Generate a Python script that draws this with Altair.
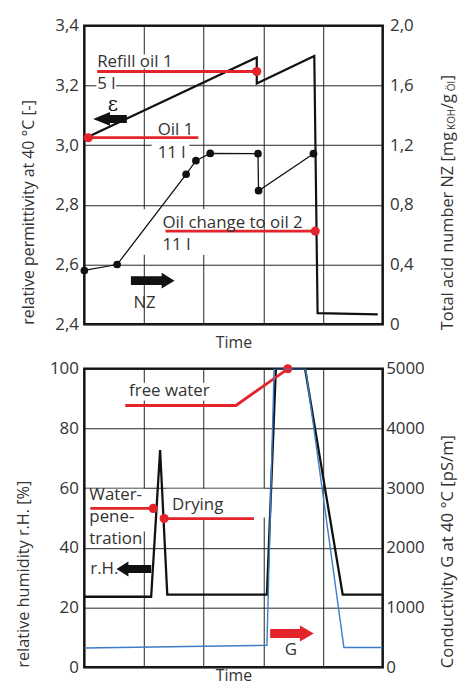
import altair as alt
import pandas as pd

FONT = "Open Sans"
RED = "#e3242b"
BLUE = "#3d7cc9"
INK = "#111111"
TXT = "#333333"
GRID = "#222222"
FS = 17      # annotation / tick label size
TFS = 16     # axis title size

# ---------------- top panel data ----------------
eps_t = [0.066, 2.89, 2.89, 3.854, 3.909, 4.917]
eps_v = [3.028, 3.294, 3.207, 3.299, 2.437, 2.433]

nz_t = [0.0, 0.55, 1.706, 1.87, 2.11, 2.91, 2.92, 3.84]
nz_v = [0.36, 0.40, 1.005, 1.096, 1.145, 1.143, 0.895, 1.143]

top_red_group = ["refill", "refill", "oil1", "oil1", "change", "change"]
top_red_t = [0.216, 2.89, 0.066, 1.91, 1.36, 3.87]
top_red_v = [3.247, 3.247, 3.025, 3.025, 2.712, 2.712]
top_dot_t = [2.89, 0.066, 3.87]
top_dot_v = [3.247, 3.025, 2.712]

top_text = ["Refill oil 1", "5 l", "Oil 1", "11 l", "Oil change to oil 2", "11 l"]
top_text_t = [0.216, 0.216, 1.23, 1.23, 1.31, 1.31]
top_text_v = [3.277, 3.204, 3.051, 2.975, 2.739, 2.666]

top_box_t = [0.20, 0.20, 1.13, 0.93]
top_box_t2 = [1.50, 0.53, 1.76, 2.88]
top_box_v = [3.304, 3.224, 3.015, 2.785]
top_box_v2 = [3.257, 3.177, 2.945, 2.633]

# ---------------- bottom panel data ----------------
rh_t = [0.0, 1.12, 1.27, 1.39, 3.06, 3.21, 3.70, 4.33, 5.0]
rh_v = [23.6, 23.6, 72.8, 24.3, 24.3, 100, 100, 24.3, 24.3]

g_t = [0.0, 3.06, 3.18, 3.71, 4.35, 5.0]
g_v = [320, 365, 5000, 5000, 330, 330]

bot_red_group = ["free", "free", "free", "water", "water", "dry", "dry"]
bot_red_t = [0.686, 2.54, 3.41, 0.10, 1.154, 1.338, 2.843]
bot_red_v = [87.7, 87.7, 100, 53.2, 53.2, 49.8, 49.8]
bot_dot_t = [3.41, 1.154, 1.338]
bot_dot_v = [100, 53.2, 49.8]

bot_text = ["free water", "Water-", "pene-", "tration", "Drying", "r.H."]
bot_text_t = [0.75, 0.084, 0.084, 0.084, 1.47, 0.10]
bot_text_v = [92.4, 57.6, 50.3, 43.0, 54.2, 32.9]

bot_box_t = [0.70, 0.033, 1.37]
bot_box_t2 = [2.14, 1.02, 3.04]
bot_box_v = [95.3, 59.8, 59.8]
bot_box_v2 = [89.4, 45.5, 50.2]

W, H = 301, 301

ARROW_LEFT_EPS = "M -1 0 L 0 -0.41 L 0 -0.235 L 1 -0.235 L 1 0.235 L 0 0.235 L 0 0.41 Z"
ARROW_RIGHT_NZ = "M 1 0 L 0.41 -0.364 L 0.41 -0.205 L -1 -0.205 L -1 0.205 L 0.41 0.205 L 0.41 0.364 Z"
ARROW_LEFT_RH = "M -1 0 L -0.314 -0.43 L -0.314 -0.23 L 1 -0.23 L 1 0.23 L -0.314 0.23 L -0.314 0.43 Z"
ARROW_RIGHT_G = "M 1 0 L 0.364 -0.364 L 0.364 -0.205 L -1 -0.205 L -1 0.205 L 0.364 0.205 L 0.364 0.364 Z"

xs = alt.Scale(domain=[0, 5], nice=False, zero=False)


def x_axis(pad):
    return alt.Axis(values=[1, 2, 3, 4], labels=False, ticks=False, domain=False,
                    grid=True, gridColor=GRID, gridWidth=1, gridOpacity=1, title="Time",
                    titlePadding=pad, titleFontSize=TFS, titleFontWeight="normal",
                    titleColor=TXT, titleFont=FONT)


x_top_axis = x_axis(11)
x_bot_axis = x_axis(0)


def XT():
    return alt.X("t:Q", scale=xs, axis=x_top_axis)


def XB():
    return alt.X("t:Q", scale=xs, axis=x_bot_axis)


# ================= TOP =================
ys_eps = alt.Scale(domain=[2.4, 3.4], nice=False, zero=False)
ys_nz = alt.Scale(domain=[0, 2.0], nice=False, zero=False)

left_top_axis = alt.Axis(values=[2.4, 2.6, 2.8, 3.0, 3.2, 3.4],
                         labelExpr="replace(format(datum.value, '.1f'), '.', ',')",
                         title="relative permittivity at 40 °C [-]", titleAnchor="start",
                         ticks=False, domain=False, grid=True, gridColor=GRID, gridWidth=1,
                         gridOpacity=1, labelPadding=6, titlePadding=18, labelFontSize=FS,
                         titleFontSize=TFS, titleFontWeight="normal", labelColor=TXT,
                         titleColor=TXT, labelFont=FONT, titleFont=FONT)
right_top_axis = alt.Axis(values=[0, 0.4, 0.8, 1.2, 1.6, 2.0], orient="right",
                          labelExpr="datum.value == 0 ? '0' : replace(format(datum.value, '.1f'), '.', ',')",
                          title=None, ticks=False, domain=False, grid=False,
                          labelPadding=7, labelFontSize=FS, labelColor=TXT, labelFont=FONT)


def YE():
    return alt.Y("v:Q", scale=ys_eps, axis=left_top_axis)


def YN():
    return alt.Y("v:Q", scale=ys_nz, axis=right_top_axis)


df_box_top = pd.DataFrame({"t": top_box_t, "t2": top_box_t2, "v": top_box_v, "v2": top_box_v2})
boxes_top = alt.Chart(df_box_top).mark_rect(color="white").encode(
    x=XT(), x2="t2:Q", y=YE(), y2="v2:Q")

df_eps = pd.DataFrame({"t": eps_t, "v": eps_v, "i": range(len(eps_t))})
eps_line = alt.Chart(df_eps).mark_line(color=INK, strokeWidth=2.2, strokeJoin="miter").encode(
    x=XT(), y=YE(), order="i:Q")

df_tred = pd.DataFrame({"t": top_red_t, "v": top_red_v, "g": top_red_group})
tred = alt.Chart(df_tred).mark_line(color=RED, strokeWidth=2.8).encode(
    x=XT(), y=YE(), detail="g:N")
df_tdot = pd.DataFrame({"t": top_dot_t, "v": top_dot_v})
tdot = alt.Chart(df_tdot).mark_point(filled=True, color=RED, opacity=1, size=85).encode(x=XT(), y=YE())

df_ttxt = pd.DataFrame({"t": top_text_t, "v": top_text_v, "label": top_text})
ttxt = alt.Chart(df_ttxt).mark_text(align="left", baseline="middle", font=FONT, fontSize=FS,
                                     color=TXT).encode(x=XT(), y=YE(), text="label:N")

eps_sym = alt.Chart(pd.DataFrame({"t": [0.48], "v": [3.134], "label": ["ε"]})).mark_text(
    align="center", baseline="middle", font="DejaVu Serif", fontSize=20, color=INK).encode(
    x=XT(), y=YE(), text="label:N")
nz_lbl = alt.Chart(pd.DataFrame({"t": [1.01], "v": [2.470], "label": ["NZ"]})).mark_text(
    align="center", baseline="middle", font=FONT, fontSize=FS, color=TXT).encode(
    x=XT(), y=YE(), text="label:N")

arr_eps = alt.Chart(pd.DataFrame({"t": [0.43], "v": [3.088]})).mark_point(
    shape=ARROW_LEFT_EPS, size=34 * 34, filled=True, color=INK, opacity=1, strokeWidth=0).encode(x=XT(), y=YE())
arr_nz = alt.Chart(pd.DataFrame({"t": [1.146], "v": [2.546]})).mark_point(
    shape=ARROW_RIGHT_NZ, size=44 * 44, filled=True, color=INK, opacity=1, strokeWidth=0).encode(x=XT(), y=YE())

left_top = alt.layer(boxes_top, eps_line, tred, tdot, ttxt, eps_sym, nz_lbl, arr_eps, arr_nz)

df_nz = pd.DataFrame({"t": nz_t, "v": nz_v, "i": range(len(nz_t))})
nz_line = alt.Chart(df_nz).mark_line(color=INK, strokeWidth=1.3).encode(
    x=XT(), y=YN(), order="i:Q")
nz_pts = alt.Chart(df_nz).mark_point(filled=True, color=INK, opacity=1, size=60).encode(
    x=XT(), y=YN())

# right title (with subscripts) as text pieces
t_pieces = [("Total acid number NZ [mg", 367, 307, 16.5), ("KOH", 371, 105, 10),
            ("/g", 367, 84, 16.5), ("Öl", 371, 66, 10), ("]", 367, 55, 16.5)]
rt_layers = []
for s, px, py, fs in t_pieces:
    rt_layers.append(
        alt.Chart(pd.DataFrame({"label": [s]})).mark_text(
            angle=270, align="left", baseline="middle", font=FONT, fontSize=fs, color=TXT).encode(
            x=alt.value(px), y=alt.value(py), text="label:N"))

right_top = alt.layer(nz_line, nz_pts, *rt_layers)

top = alt.layer(left_top, right_top).resolve_scale(y="independent").properties(width=W, height=H)

# ================= BOTTOM =================
ys_rh = alt.Scale(domain=[0, 100], nice=False)
ys_g = alt.Scale(domain=[0, 5000], nice=False)

left_bot_axis = alt.Axis(values=[0, 20, 40, 60, 80, 100],
                         title="relative humidity r.H. [%]", titleAnchor="start",
                         ticks=False, domain=False, grid=True, gridColor=GRID, gridWidth=1,
                         gridOpacity=1, labelPadding=6, titlePadding=18, labelFontSize=FS,
                         titleFontSize=16.4, titleFontWeight="normal", labelColor=TXT,
                         titleColor=TXT, labelFont=FONT, titleFont=FONT)
right_bot_axis = alt.Axis(values=[0, 1000, 2000, 3000, 4000, 5000], orient="right",
                          title=None, ticks=False, domain=False, grid=False, format="d",
                          labelPadding=3, labelFontSize=FS, labelColor=TXT, labelFont=FONT)


def YR():
    return alt.Y("v:Q", scale=ys_rh, axis=left_bot_axis)


def YG():
    return alt.Y("v:Q", scale=ys_g, axis=right_bot_axis)


df_box_bot = pd.DataFrame({"t": bot_box_t, "t2": bot_box_t2, "v": bot_box_v, "v2": bot_box_v2})
boxes_bot = alt.Chart(df_box_bot).mark_rect(color="white").encode(
    x=XB(), x2="t2:Q", y=YR(), y2="v2:Q")

df_rh = pd.DataFrame({"t": rh_t, "v": rh_v, "i": range(len(rh_t))})
rh_line = alt.Chart(df_rh).mark_line(color=INK, strokeWidth=2.3, clip=True).encode(
    x=XB(), y=YR(), order="i:Q")

df_bred = pd.DataFrame({"t": bot_red_t, "v": bot_red_v, "g": bot_red_group, "i": range(len(bot_red_t))})
bred = alt.Chart(df_bred).mark_line(color=RED, strokeWidth=2.8).encode(
    x=XB(), y=YR(), detail="g:N", order="i:Q")
df_bdot = pd.DataFrame({"t": bot_dot_t, "v": bot_dot_v})
bdot = alt.Chart(df_bdot).mark_point(filled=True, color=RED, opacity=1, size=85).encode(x=XB(), y=YR())

df_btxt = pd.DataFrame({"t": bot_text_t, "v": bot_text_v, "label": bot_text})
btxt = alt.Chart(df_btxt).mark_text(align="left", baseline="middle", font=FONT, fontSize=FS,
                                     color=TXT).encode(x=XB(), y=YR(), text="label:N")
g_lbl = alt.Chart(pd.DataFrame({"t": [3.46], "v": [5.6], "label": ["G"]})).mark_text(
    align="center", baseline="middle", font=FONT, fontSize=FS, color=TXT).encode(
    x=XB(), y=YR(), text="label:N")

arr_rh = alt.Chart(pd.DataFrame({"t": [0.83], "v": [32.9]})).mark_point(
    shape=ARROW_LEFT_RH, size=35 * 35, filled=True, color=INK, opacity=1, strokeWidth=0).encode(x=XB(), y=YR())
arr_g = alt.Chart(pd.DataFrame({"t": [3.48], "v": [11.3]})).mark_point(
    shape=ARROW_RIGHT_G, size=44 * 44, filled=True, color=RED, opacity=1, strokeWidth=0).encode(x=XB(), y=YR())

left_bot = alt.layer(boxes_bot, rh_line, bred, bdot, btxt, g_lbl, arr_rh, arr_g)

df_g = pd.DataFrame({"t": g_t, "v": g_v, "i": range(len(g_t))})
g_line = alt.Chart(df_g).mark_line(color=BLUE, strokeWidth=1.4, clip=True).encode(
    x=XB(), y=YG(), order="i:Q")
g_title = alt.Chart(pd.DataFrame({"label": ["Conductivity G at 40 °C [pS/m]"]})).mark_text(
    angle=270, align="left", baseline="middle", font=FONT, fontSize=16.8, color=TXT).encode(
    x=alt.value(367), y=alt.value(302), text="label:N")

right_bot = alt.layer(g_line, g_title)

bottom = alt.layer(left_bot, right_bot).resolve_scale(y="independent").properties(width=W, height=H)

chart = alt.vconcat(top, bottom, spacing=5).properties(
    padding={"left": 6, "top": 4, "right": 0, "bottom": -4}
).configure(font=FONT).configure_view(stroke=INK, strokeWidth=2.5)

chart.save("out.html", embed_options={"renderer": "svg", "actions": False})
